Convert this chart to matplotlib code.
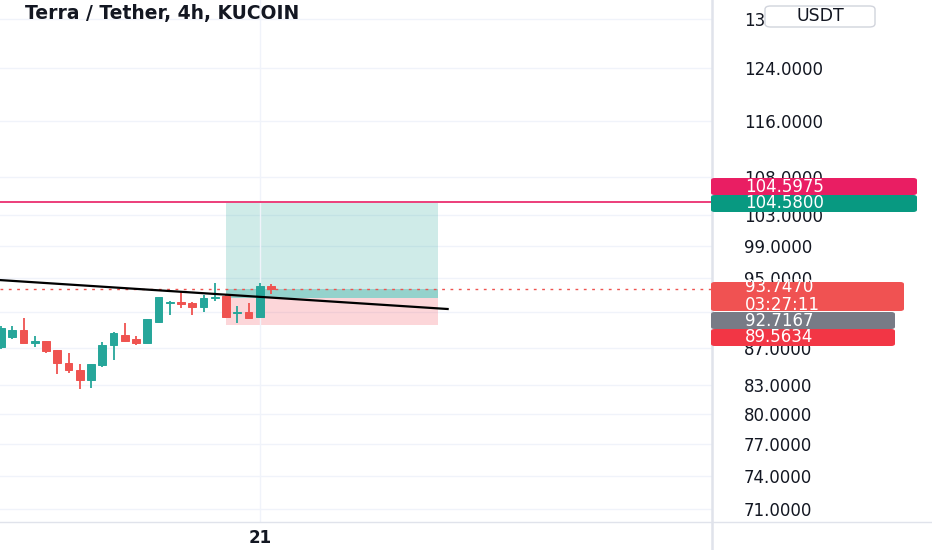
import matplotlib.pyplot as plt
from matplotlib.lines import Line2D
from matplotlib.patches import FancyBboxPatch, Rectangle
from matplotlib.ticker import FixedLocator, FuncFormatter, NullLocator

# 4h candles, LUNA/USDT (index 23 is the bar at "21")
opens = [87.11, 88.24, 89.01, 87.55, 87.77, 86.78, 85.37, 84.61, 83.54, 85.16,
         87.33, 88.46, 87.99, 87.55, 89.91, 92.09, 92.21, 92.09, 91.62, 92.68,
         92.91, 90.93, 91.04, 90.47, 94.10]
highs = [89.45, 89.45, 90.36, 88.35, 87.80, 86.80, 86.45, 85.26, 85.30, 87.66,
         88.79, 89.80, 88.35, 90.30, 92.85, 92.33, 93.39, 92.21, 93.04, 94.46,
         93.00, 91.74, 92.09, 94.46, 94.34]
lows = [86.90, 88.02, 87.50, 87.11, 86.45, 84.19, 84.29, 82.60, 82.70, 84.94,
        85.69, 87.66, 87.33, 87.50, 89.80, 90.70, 91.50, 90.70, 91.04, 92.33,
        90.40, 89.80, 90.30, 90.36, 93.20]
closes = [89.23, 89.01, 87.55, 87.77, 86.67, 85.37, 84.61, 83.54, 85.26, 87.33,
          88.68, 87.77, 87.55, 90.24, 92.80, 92.21, 91.97, 91.62, 92.68, 92.80,
          90.47, 91.04, 90.36, 94.10, 93.747]

grid_prices = [132, 124, 116, 108, 103, 99, 95, 91, 87, 83, 80, 77, 74, 71]
price_ticks = [132, 124, 116, 108, 103, 99, 95, 87, 83, 80, 77, 74, 71]
time_tick_idx = [23]
time_tick_labels = ["21"]

current_price = 93.7470
countdown = "03:27:11"
alert_price = 104.5975
entry_price = 92.7167
target_price = 104.5800
stop_price = 89.5634
pos_start, pos_end = 20, 38.8
trend_x = [-0.1, 39.7]
trend_y = [94.81, 91.40]

GREEN = "#26a69a"
RED = "#ef5350"
W, H = 932, 550

fig = plt.figure(figsize=(W / 100, H / 100), dpi=100)
fig.patch.set_facecolor("white")
ax = fig.add_axes([0, 28 / H, 712 / W, 522 / H])

ax.set_yscale("log")
ax.set_ylim(69.80, 135.15)
ax.set_xlim(-0.09, 63.2)

for s in ax.spines.values():
    s.set_visible(False)

ax.yaxis.set_major_locator(FixedLocator(price_ticks))
ax.yaxis.set_minor_locator(NullLocator())
ax.yaxis.set_major_formatter(FuncFormatter(lambda v, _: f"{v:.4f}"))
ax.yaxis.tick_right()
ax.tick_params(axis="y", length=0, pad=23, labelsize=12, labelcolor="#131722")
ax.set_xticks(time_tick_idx)
ax.set_xticklabels(time_tick_labels, fontweight="bold", fontsize=12, color="#131722")
ax.tick_params(axis="x", length=0, pad=5)
ax.grid(True, axis="x", color="#f0f3fa", lw=1, zorder=0)
for p in grid_prices:
    ax.axhline(p, color="#f0f3fa", lw=1, zorder=0)

# long position tool
ax.add_patch(Rectangle((pos_start, entry_price), pos_end - pos_start, target_price - entry_price,
                       fc=(0.149, 0.651, 0.604, 0.22), ec="none", zorder=1))
ax.add_patch(Rectangle((pos_start, entry_price), pos_end - pos_start, current_price - entry_price,
                       fc=(0.149, 0.651, 0.604, 0.35), ec="none", zorder=1))
ax.add_patch(Rectangle((pos_start, stop_price), pos_end - pos_start, entry_price - stop_price,
                       fc=(0.949, 0.212, 0.271, 0.2), ec="none", zorder=1))

ax.axhline(alert_price, color="#e91e63", lw=1.2, zorder=2)
ax.axhline(current_price, color=RED, lw=1, ls=(0, (2, 4)), zorder=2)

# candles
xs = list(range(len(opens)))
colors = [GREEN if c >= o else RED for o, c in zip(opens, closes)]
ax.vlines(xs, lows, highs, colors=colors, lw=1.3, zorder=3)
ax.bar(xs, [abs(c - o) for o, c in zip(opens, closes)], bottom=[min(o, c) for o, c in zip(opens, closes)],
       width=0.68, color=colors, edgecolor=colors, lw=0.7, zorder=3)

ax.plot(trend_x, trend_y, color="black", lw=1.6, zorder=4)

# title
fig.text(25 / W, 1 - 14 / H, "Terra / Tether, 4h, KUCOIN", fontsize=13.5, fontweight="bold",
         color="#131722", va="center", ha="left")

# axis separators
fig.add_artist(Line2D([712 / W, 712 / W], [0, 1], transform=fig.transFigure, color="#e0e3eb", lw=1.8))
fig.add_artist(Line2D([0, 1], [28 / H, 28 / H], transform=fig.transFigure, color="#e0e3eb", lw=1))


def price_label(text, color, top, width, height=17):
    fig.add_artist(FancyBboxPatch((711 / W, 1 - (top + height) / H), width / W, height / H,
                                  boxstyle="round,pad=0,rounding_size=0.004", transform=fig.transFigure,
                                  fc=color, ec="none", zorder=5))
    fig.text(745 / W, 1 - (top + height / 2) / H, text, color="white", fontsize=12,
             va="center", ha="left", zorder=6, linespacing=1.0)


price_label(f"{alert_price:.4f}", "#e91e63", 178, 206)
price_label(f"{target_price:.4f}", "#089981", 195, 206)
price_label(f"{current_price:.4f}\n{countdown}", "#f05252", 282, 193, height=29)
price_label(f"{entry_price:.4f}", "#787b86", 312, 184)
price_label(f"{stop_price:.4f}", "#f23645", 329, 184)

# currency badge
fig.add_artist(FancyBboxPatch((765 / W, 1 - 27 / H), 110 / W, 21 / H,
                              boxstyle="round,pad=0,rounding_size=0.006", transform=fig.transFigure,
                              fc="white", ec="#d1d4dc", lw=1, zorder=5))
fig.text(820 / W, 1 - 16 / H, "USDT", fontsize=12.5, color="#131722", ha="center", va="center", zorder=6)

fig.savefig("out.png", dpi=100)
